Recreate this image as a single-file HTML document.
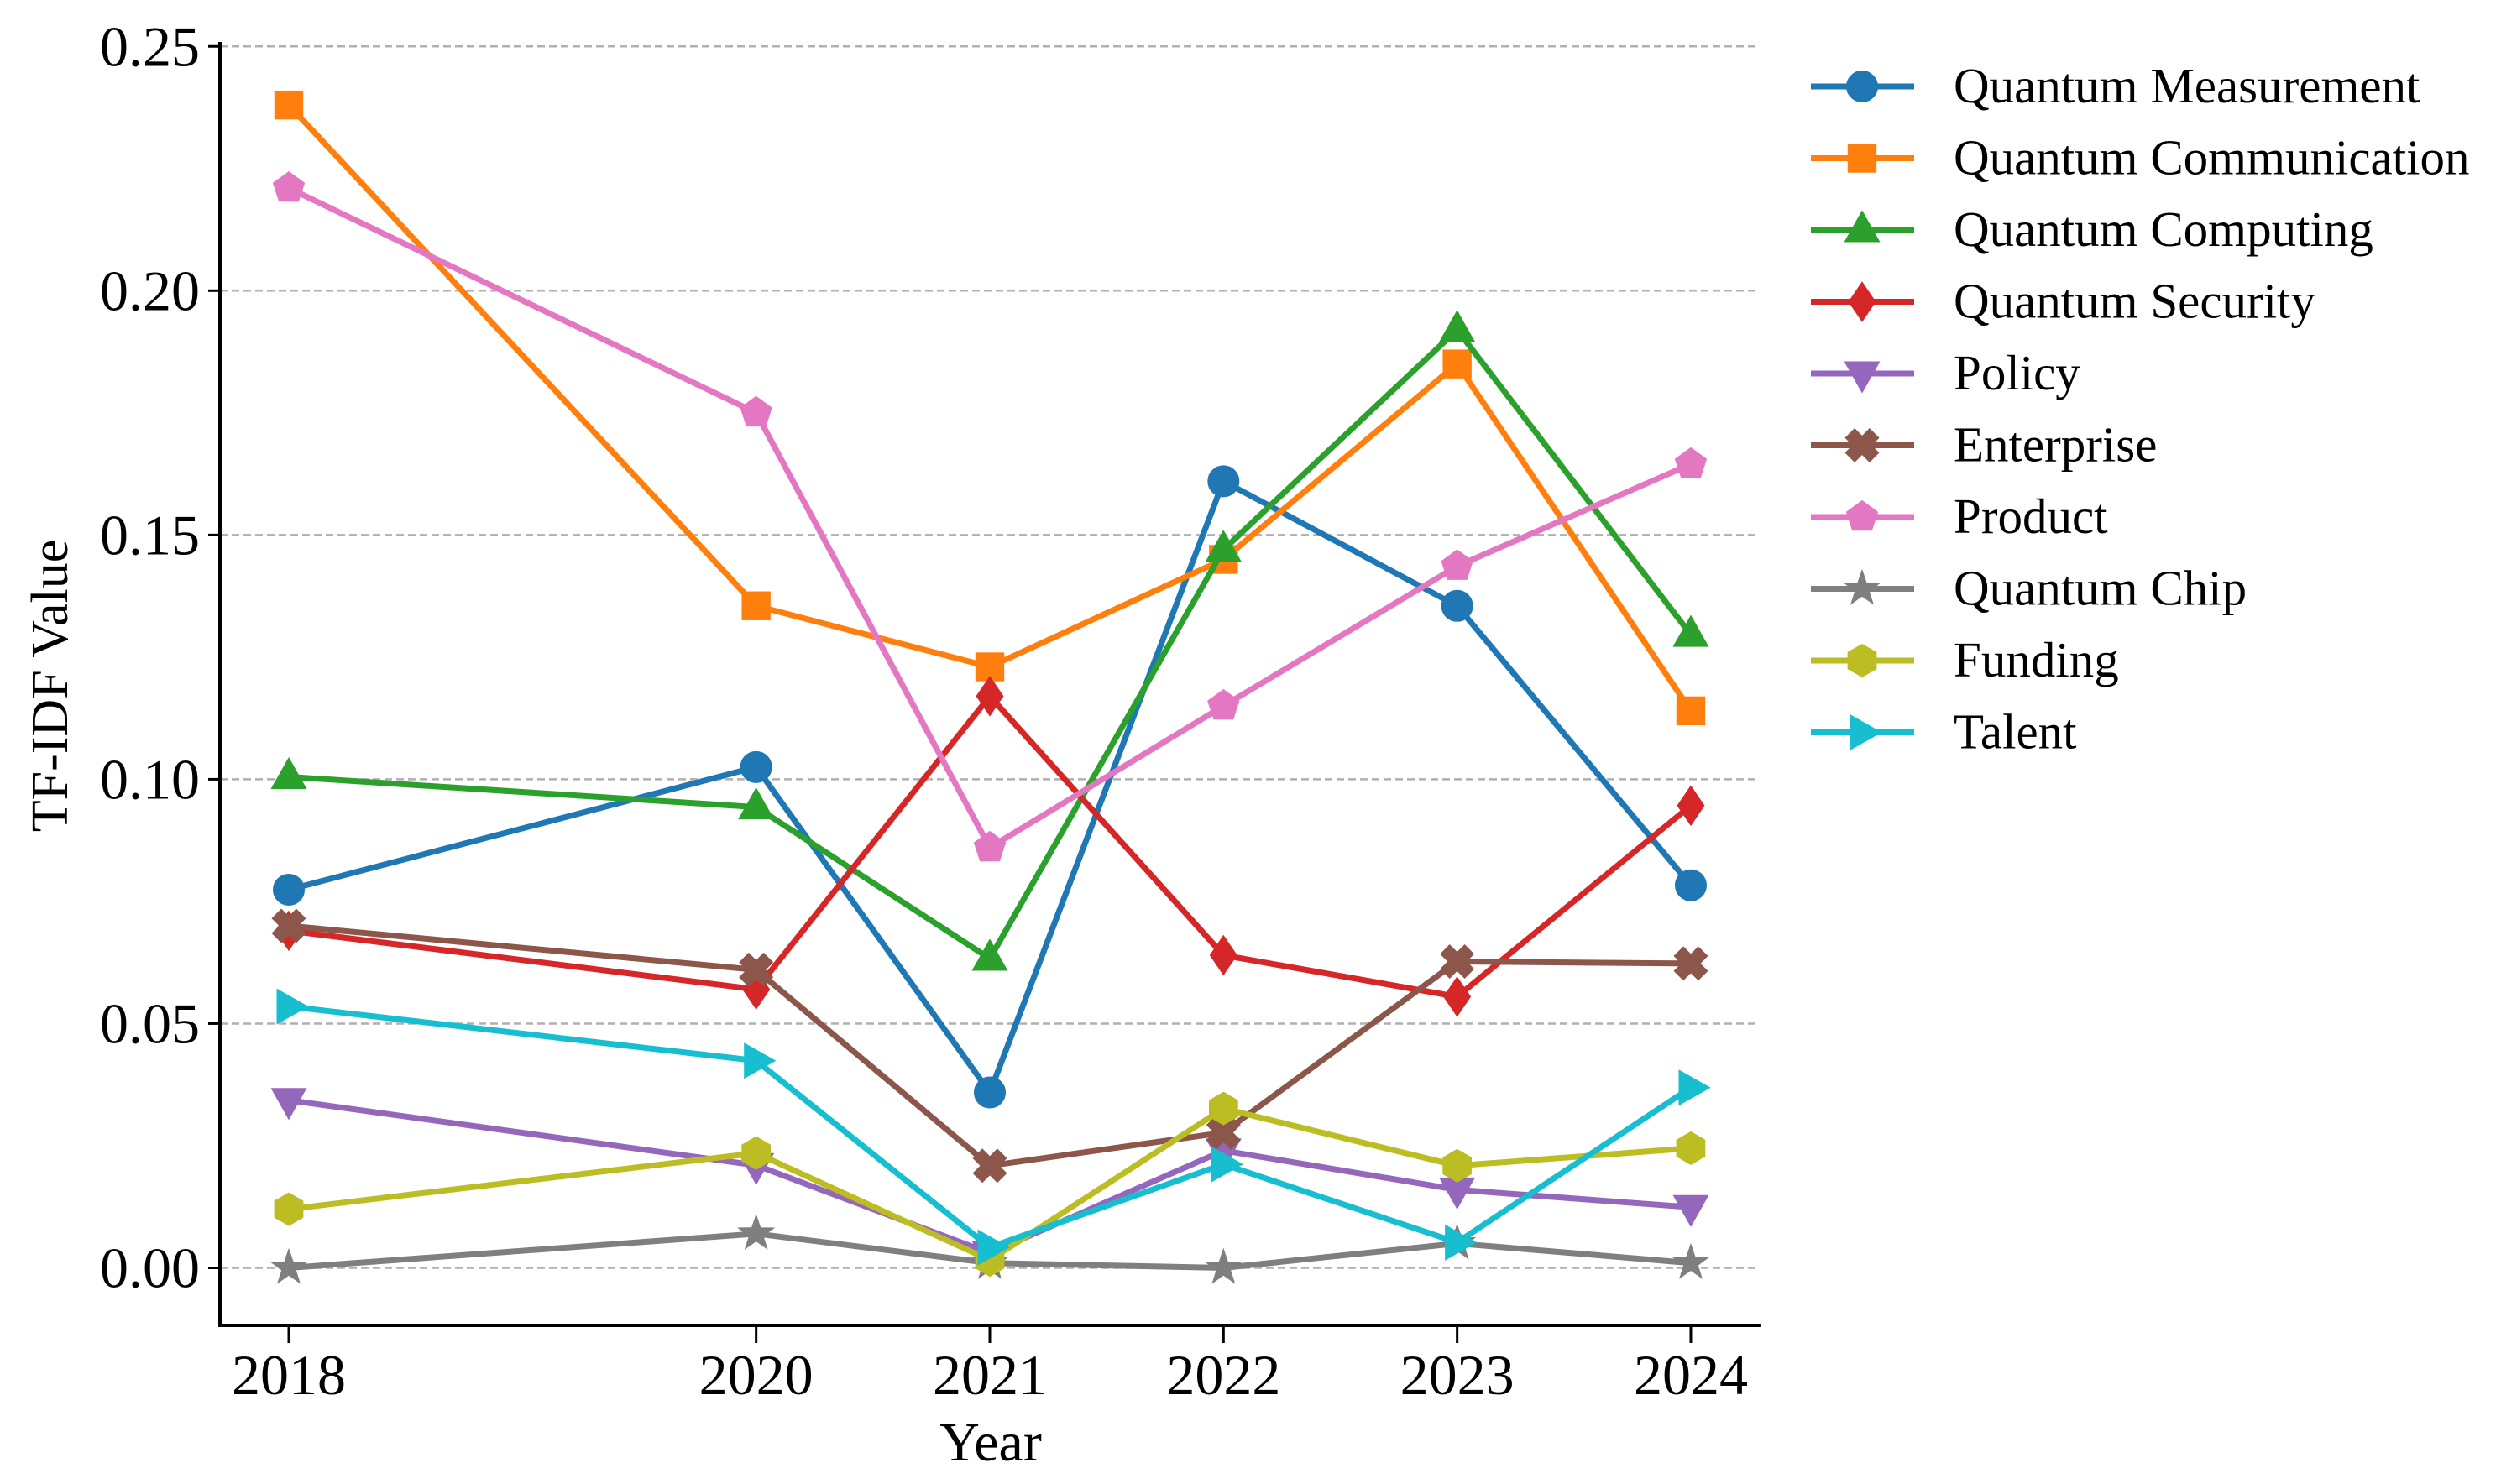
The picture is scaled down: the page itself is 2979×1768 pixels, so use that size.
<!DOCTYPE html>
<html><head><meta charset="utf-8"><style>
html,body{margin:0;padding:0;background:#fff;}
svg{display:block;font-family:"Liberation Serif","Times New Roman",serif;}
</style></head><body>
<svg id="chart" width="2979" height="1768" viewBox="0 0 2979 1768" xmlns="http://www.w3.org/2000/svg">
<rect width="2979" height="1768" fill="#fff"/>
<g id="grid"></g><g id="axes"></g><g id="series"></g><g id="legend"></g>
</svg>
<script>
const years = [2018, 2020, 2021, 2022, 2023, 2024];
const yTicks = [0, 0.05, 0.10, 0.15, 0.20, 0.25];
const yTickLabels = ["0.00", "0.05", "0.10", "0.15", "0.20", "0.25"];
const seriesNames = ["Quantum Measurement","Quantum Communication","Quantum Computing","Quantum Security","Policy","Enterprise","Product","Quantum Chip","Funding","Talent"];
const qMeasurement = [0.0774, 0.1025, 0.0359, 0.161, 0.1355, 0.0783];
const qCommunication = [0.238, 0.1355, 0.123, 0.145, 0.185, 0.114];
const qComputing = [0.1005, 0.0943, 0.0633, 0.147, 0.192, 0.1296];
const qSecurity = [0.069, 0.057, 0.117, 0.064, 0.0555, 0.0946];
const policy = [0.0343, 0.021, 0.003, 0.024, 0.016, 0.0124];
const enterprise = [0.070, 0.061, 0.0209, 0.0277, 0.0627, 0.0623];
const product = [0.221, 0.175, 0.086, 0.115, 0.1436, 0.1645];
const qChip = [0.0, 0.007, 0.001, 0.0, 0.005, 0.001];
const funding = [0.012, 0.0235, 0.0016, 0.0326, 0.0209, 0.0245];
const talent = [0.0535, 0.0424, 0.0042, 0.0212, 0.0052, 0.0369];

const allSeries = [qMeasurement,qCommunication,qComputing,qSecurity,policy,enterprise,product,qChip,funding,talent];
const colors = ["#1f77b4","#ff7f0e","#2ca02c","#d62728","#9467bd","#8c564b","#e377c2","#7f7f7f","#bcbd22","#17becf"];
const markers = ["circle","square","tri-up","diamond","tri-down","xfill","pentagon","star","hexagon","tri-right"];
const NS="http://www.w3.org/2000/svg";
function xs(v){return 344 + (v-2018)*278.33;}
function ys(v){return 1510.5 - v*5821;}
function mk(tag,attrs,parent){const e=document.createElementNS(NS,tag);for(const k in attrs)e.setAttribute(k,attrs[k]);parent.appendChild(e);return e;}
function poly(cx,cy,pts){return pts.map(p=>(cx+p[0]).toFixed(1)+","+(cy+p[1]).toFixed(1)).join(" ");}
function regular(n,r,rot){const a=[];for(let i=0;i<n;i++){const t=rot+i*2*Math.PI/n;a.push([r*Math.sin(t),-r*Math.cos(t)]);}return a;}
function drawMarker(type,cx,cy,color,parent){
  const s=18;let e;
  if(type==="circle") e=mk("circle",{cx:cx,cy:cy,r:s},parent);
  else if(type==="square") e=mk("rect",{x:cx-s*0.9,y:cy-s*0.9,width:s*1.8,height:s*1.8},parent);
  else {
    let pts;
    if(type==="tri-up") pts=[[0,-s*1.2],[s*1.1,s*0.75],[-s*1.1,s*0.75]];
    else if(type==="tri-down") pts=[[0,s*1.2],[s*1.1,-s*0.75],[-s*1.1,-s*0.75]];
    else if(type==="tri-right") pts=[[s*1.2,0],[-s*0.75,s*1.1],[-s*0.75,-s*1.1]];
    else if(type==="diamond") pts=[[0,-s*1.25],[s*0.85,0],[0,s*1.25],[-s*0.85,0]];
    else if(type==="pentagon") pts=regular(5,s*1.05,0);
    else if(type==="hexagon") pts=regular(6,s*1.05,0);
    else if(type==="star"){pts=[];for(let i=0;i<10;i++){const r=i%2?s*0.45:s*1.15;const t=i*Math.PI/5;pts.push([r*Math.sin(t),-r*Math.cos(t)]);}}
    else if(type==="xfill"){const a=s*0.4,b=s*1.1;const base=[[-a,-b],[a,-b],[a,-a],[b,-a],[b,a],[a,a],[a,b],[-a,b],[-a,a],[-b,a],[-b,-a],[-a,-a]];const c=Math.SQRT1_2;pts=base.map(p=>[(p[0]-p[1])*c,(p[0]+p[1])*c]);}
    e=mk("polygon",{points:poly(cx,cy,pts)},parent);
  }
  e.setAttribute("fill",color);e.setAttribute("stroke",color);e.setAttribute("stroke-width","2");
  return e;
}
const grid=document.getElementById("grid"),axes=document.getElementById("axes"),series=document.getElementById("series"),legend=document.getElementById("legend");
yTicks.forEach((t,i)=>{
  const y=ys(t);
  const g=mk("line",{x1:262,x2:2094,y1:y,y2:y,stroke:"#b0b0b0","stroke-width":2.5,"stroke-dasharray":"9,5"},grid);
  
  
  mk("line",{x1:248,x2:262,y1:y,y2:y,stroke:"#000","stroke-width":3},axes);
  const tx=mk("text",{x:238,y:y+23,"text-anchor":"end","font-size":68,fill:"#000"},axes);
  tx.textContent=yTickLabels[i];
  
  
});
years.forEach(yr=>{
  const x=xs(yr);
  mk("line",{x1:x,x2:x,y1:1579,y2:1600,stroke:"#000","stroke-width":3},axes);
  const tx=mk("text",{x:x,y:1661,"text-anchor":"middle","font-size":68,fill:"#000"},axes);
  tx.textContent=String(yr);
  
  
});
const xa=mk("line",{x1:262,x2:2098,y1:1579,y2:1579,stroke:"#000","stroke-width":4},axes);


const ya=mk("line",{x1:262,x2:262,y1:50,y2:1581,stroke:"#000","stroke-width":4},axes);


const xt=mk("text",{x:1180,y:1740,"text-anchor":"middle","font-size":66,fill:"#000"},axes);
xt.textContent="Year";


const yt=mk("text",{x:0,y:0,"text-anchor":"middle","font-size":62,fill:"#000",transform:"translate(80,817) rotate(-90)"},axes);
yt.textContent="TF-IDF Value";



allSeries.forEach((vals,si)=>{
  const g=mk("g",{},series);
  
  
  const pts=vals.map((v,i)=>xs(years[i]).toFixed(1)+","+ys(v).toFixed(1)).join(" ");
  mk("polyline",{points:pts,fill:"none",stroke:colors[si],"stroke-width":7,"stroke-linejoin":"round"},g);
  vals.forEach((v,i)=>{
    const m=drawMarker(markers[si],xs(years[i]),ys(v),colors[si],g);
    
    
  });
  const ly=103+si*85.5;
  const le=mk("g",{},legend);
  
  
  mk("line",{x1:2157,x2:2280,y1:ly,y2:ly,stroke:colors[si],"stroke-width":7},le);
  drawMarker(markers[si],2218,ly,colors[si],le);
  const lt=mk("text",{x:2327,y:ly+19,"font-size":59,fill:"#000"},le);
  lt.textContent=seriesNames[si];
});
</script>
</body></html>
